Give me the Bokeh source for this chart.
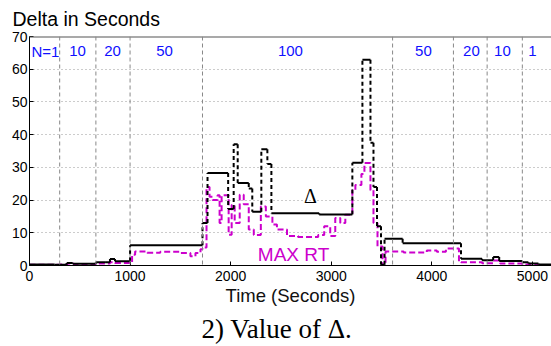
from bokeh.plotting import figure
from bokeh.models import Span, Label, FixedTicker, Range1d, Title
from bokeh.embed import file_html
from bokeh.resources import INLINE

# ---- data ----
x_ticks = [0, 1000, 2000, 3000, 4000, 5000]
y_ticks = [0, 10, 20, 30, 40, 50, 60, 70]

# phase boundaries (seconds) and number of clients per phase
phase_bounds = [300, 660, 1000, 1720, 3610, 4215, 4550, 4900]
phase_labels = ["N=1", "10", "20", "50", "100", "50", "20", "10", "1"]
phase_label_x = [159, 477, 825, 1342, 2594, 3917, 4394, 4702, 5000]

# Delta (step series: change times and values)
delta_t = [0, 250, 370, 430, 660, 760, 800, 850, 1000, 1720, 1770, 1975, 2030,
           2070, 2180, 2215, 2305, 2365, 2405, 2880, 3210, 3310, 3390, 3420,
           3455, 3495, 3530, 3710, 4290, 4500, 4610, 4670, 4900, 4960, 5060]
delta_v = [0.3, 0.2, 0.8, 0.5, 1.0, 1.0, 2.0, 1.3, 6.2, 13.0, 28.3, 17.3, 37.1,
           25.2, 23.5, 16.4, 35.5, 31.0, 16.0, 15.6, 31.4, 62.9, 37.5, 24.0,
           12.0, 0.2, 8.2, 6.8, 2.1, 1.6, 2.6, 1.4, 1.0, 0.6, 0.3]
t_end = 5190

# MAX RT (step series)
maxrt_t = [0, 300, 380, 440, 660, 800, 850, 1000, 1020, 1050, 1170, 1300, 1500,
           1600, 1650, 1700, 1720, 1760, 1790, 1820, 1870, 1890, 1910, 1980,
           2010, 2040, 2090, 2130, 2180, 2230, 2300, 2350, 2415, 2460, 2560,
           2670, 2870, 2930, 2990, 3040, 3090, 3140, 3210, 3240, 3300, 3330,
           3390, 3420, 3460, 3510, 3540, 3720, 3950, 4050, 4140, 4270, 4290,
           4500, 4620, 4680, 4900, 5050]
maxrt_v = [0.2, 0.3, 0.6, 0.4, 0.6, 1.0, 0.8, 1.0, 3.3, 4.3, 3.9, 4.2, 3.8,
           2.8, 3.8, 5.0, 5.5, 24.0, 21.0, 20.0, 21.5, 13.0, 21.5, 9.4,
           18.5, 13.0, 21.6, 18.7, 11.0, 9.3, 18.0, 15.0, 12.5, 11.0, 9.0,
           8.7, 9.3, 12.0, 9.0, 14.5, 13.0, 15.5, 23.0, 24.6, 28.0, 31.3,
           23.0, 13.0, 5.8, 0.0, 4.3, 4.0, 4.6, 4.2, 5.2, 1.2, 1.0,
           0.7, 1.5, 0.6, 0.3, 0.1]

# ---- figure ----
p = figure(width=551, height=346, output_backend="svg", toolbar_location=None,
           x_range=Range1d(0, t_end), y_range=Range1d(0, 70),
           min_border_left=29, min_border_right=0, min_border_top=36,
           min_border_bottom=80)
p.outline_line_color = None
p.xgrid.grid_line_color = None
p.ygrid.grid_line_color = "#999999"
p.ygrid.grid_line_dash = "1 3"
p.ygrid.grid_line_width = 1

p.title.text = "Delta in Seconds"
p.title.align = "left"
p.title.vertical_align = "top"
p.title.offset = -17
p.title.standoff = 10
p.title.text_line_height = 0.75
p.title.text_font = "Liberation Sans"
p.title.text_font_size = "19.5px"
p.title.text_font_style = "normal"
p.title.text_color = "black"

for ax in (p.xaxis[0], p.yaxis[0]):
    ax.axis_line_color = "black"
    ax.axis_line_width = 1
    ax.major_tick_in = 4
    ax.major_tick_out = 0
    ax.minor_tick_line_color = None
    ax.major_label_text_font = "Liberation Sans"
    ax.major_label_text_font_size = "14px"
    ax.major_label_text_color = "black"
p.xaxis[0].ticker = FixedTicker(ticks=x_ticks)
p.yaxis[0].ticker = FixedTicker(ticks=y_ticks)
p.xaxis[0].major_label_standoff = 5
p.yaxis[0].major_label_standoff = 2
p.xaxis[0].axis_label = "Time (Seconds)"
p.xaxis[0].axis_label_text_font = "Liberation Sans"
p.xaxis[0].axis_label_text_font_size = "18.5px"
p.xaxis[0].axis_label_text_font_style = "normal"
p.xaxis[0].axis_label_text_color = "#111111"
p.xaxis[0].axis_label_standoff = 1

caption = Title(text="2) Value of Δ.", align="left", offset=172, standoff=6,
                text_font="Liberation Serif", text_font_size="27px",
                text_font_style="normal", text_color="black")
p.add_layout(caption, "below")

# top border
p.add_layout(Span(location=70, dimension="width", line_color="#555555", line_width=2))

# phase boundaries
for b in phase_bounds:
    p.add_layout(Span(location=b, dimension="height", line_color="#888888",
                      line_width=1, line_dash="4 3"))

# MAX RT
p.step(maxrt_t + [t_end], maxrt_v + [maxrt_v[-1]], mode="after",
       line_color="#cc00cc", line_width=2, line_dash="6 3")

# Delta: horizontal parts solid, vertical jumps dashed
ends = delta_t[1:] + [t_end]
p.segment(x0=delta_t, y0=delta_v, x1=ends, y1=delta_v,
          line_color="black", line_width=2)
p.segment(x0=delta_t[1:], y0=delta_v[:-1], x1=delta_t[1:], y1=delta_v[1:],
          line_color="black", line_width=2, line_dash="4 3")

# labels inside
for lx, lt in zip(phase_label_x, phase_labels):
    p.add_layout(Label(x=lx, y=65.5, text=lt, text_align="center",
                       text_baseline="middle", text_color="#1010ff",
                       text_font="Liberation Sans", text_font_size="15px"))
p.add_layout(Label(x=2793, y=21.1, text="Δ", text_align="center",
                   text_baseline="middle", text_color="black",
                   text_font="Liberation Serif", text_font_size="20px"))
p.add_layout(Label(x=2625, y=3.5, text="MAX RT", text_align="center",
                   text_baseline="middle", text_color="#cc00cc",
                   text_font="Liberation Sans", text_font_size="19px"))

open("out.html", "w").write(file_html(p, INLINE))
